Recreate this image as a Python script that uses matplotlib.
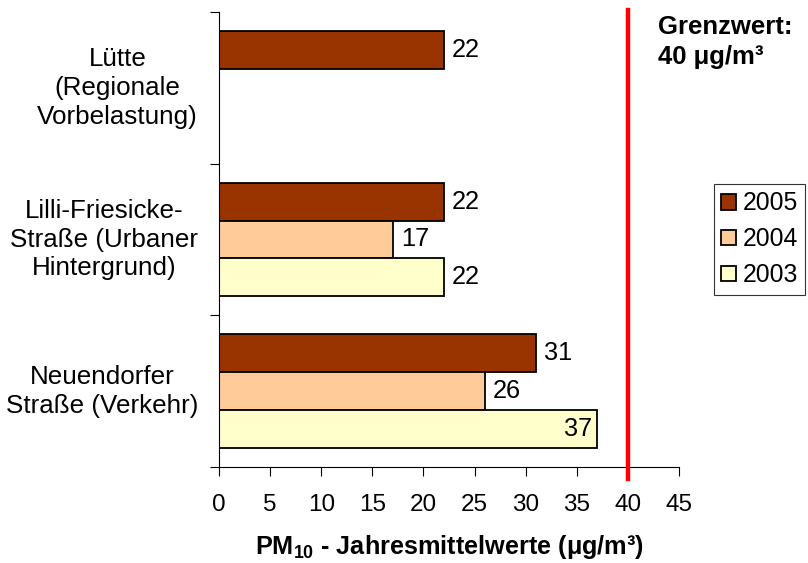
import numpy as np
import matplotlib.pyplot as plt
from matplotlib.patches import Patch

plt.rcParams['font.family'] = ['Liberation Sans', 'DejaVu Sans']
plt.rcParams['mathtext.fontset'] = 'custom'
plt.rcParams['mathtext.rm'] = 'Liberation Sans'
plt.rcParams['mathtext.bf'] = 'Liberation Sans:bold'

# data
stations = ['Lütte\n(Regionale\nVorbelastung)',
            'Lilli-Friesicke-\nStraße (Urbaner\nHintergrund)',
            'Neuendorfer\nStraße (Verkehr)']
years = ['2005', '2004', '2003']
pm2005 = [22, 22, 31]
pm2004 = [np.nan, 17, 26]
pm2003 = [np.nan, 22, 37]
colors = ['#993300', '#FFCC99', '#FFFFCC']
limit = 40

fig = plt.figure(figsize=(8.08, 5.63), dpi=100)
ax = fig.add_axes([219/808, 1-467/563, 460/808, 455/563])

series = [pm2005, pm2004, pm2003]
offsets = [-0.25, 0.0, 0.25]
ypos = np.arange(len(stations))
for vals, off, col in zip(series, offsets, colors):
    ax.barh(ypos + off, vals, height=0.25, color=col, edgecolor='black', linewidth=1.3, zorder=2)
    for y, v in zip(ypos + off, vals):
        if np.isnan(v):
            continue
        # label goes inside the bar if it would hit the limit line
        if v > 35:
            ax.text(v - 0.5, y, f'{v:g}', ha='right', va='center', fontsize=18.3, zorder=3)
        else:
            ax.text(v + 0.8, y, f'{v:g}', ha='left', va='center', fontsize=18.3, zorder=3)

ax.axvline(limit, ymin=-0.026, ymax=1.005, color='#FF0000', linewidth=3.2, clip_on=False, zorder=4)

ax.set_xlim(0, 45)
ax.set_ylim(2.5, -0.5)
ax.set_xticks(np.arange(0, 46, 5))
ax.set_yticks([-0.5, 0.5, 1.5, 2.5])
ax.set_yticklabels([])
ax.tick_params(axis='x', direction='out', length=6.5, width=0.8, pad=13, labelsize=17.5)
ax.tick_params(axis='y', direction='out', length=6.5, width=0.8)
for s in ['top', 'right']:
    ax.spines[s].set_visible(False)
for s in ['left', 'bottom']:
    ax.spines[s].set_linewidth(0.8)

for y, name in zip(ypos, stations):
    ax.text(-21/460, y, name, transform=ax.get_yaxis_transform(), ha='right', va='center',
            multialignment='center', fontsize=18.7, linespacing=1.25)

ax.set_xlabel(r'PM$_{\mathbf{10}}$ - Jahresmittelwerte (μg/m³)', fontsize=18.2, fontweight='bold', labelpad=12)

fig.text(658/808, 1-15/563, 'Grenzwert:\n40 μg/m³', ha='left', va='top', fontsize=18.5,
         fontweight='bold', linespacing=1.33)

handles = [Patch(facecolor=c, edgecolor='black', linewidth=1.3) for c in colors]
leg = ax.legend(handles, years, loc='upper left', bbox_to_anchor=(714/808, 1-184/563),
                bbox_transform=fig.transFigure, fontsize=17.8, frameon=True, fancybox=False,
                handlelength=0.6, handleheight=0.6, handletextpad=0.25, borderpad=0.3,
                labelspacing=0.48, borderaxespad=0)
leg.get_frame().set_edgecolor('black')
leg.get_frame().set_linewidth(0.8)

fig.savefig('out.png', dpi=100)
